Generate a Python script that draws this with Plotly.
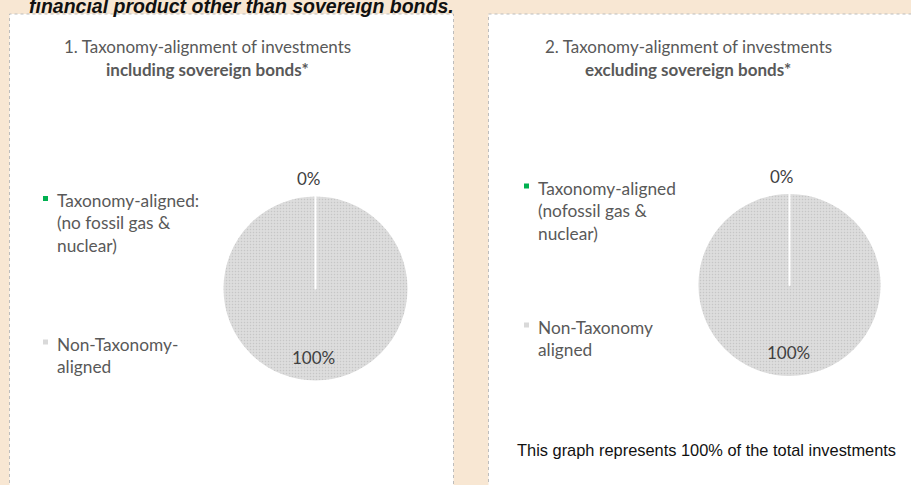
import plotly.graph_objects as go

W, H = 911, 485

# ---- data ----
categories_1 = ["Taxonomy-aligned:<br>(no fossil gas &<br>nuclear)", "Non-Taxonomy-<br>aligned"]
categories_2 = ["Taxonomy-aligned<br>(nofossil gas &<br>nuclear)", "Non-Taxonomy<br>aligned"]
values_1 = [0, 100]
values_2 = [0, 100]
slice_colors = ["#00B050", "#D9D9D9"]
header = "financial product other than sovereign bonds."
title_1 = ["1. Taxonomy-alignment of investments", "<b>including sovereign bonds*</b>"]
title_2 = ["2. Taxonomy-alignment of investments", "<b>excluding sovereign bonds*</b>"]
footnote = "This graph represents 100% of the total investments"


def px(x):
    return x / W


def py(y):
    return 1 - y / H


fig = go.Figure()


def add_pie(values, cx, cy, r):
    # draw the 100% slice first so the zero slice border stays visible
    order = [1, 0]
    fig.add_trace(go.Pie(
        values=[values[i] for i in order],
        labels=[f"s{i}" for i in order],
        marker=dict(colors=[slice_colors[i] for i in order],
                    line=dict(color="white", width=2),
                    pattern=dict(shape=".", fgcolor="#C6C6C6", bgcolor="#DDDDDD",
                                 size=3, solidity=0.2)),
        sort=False, direction="clockwise", rotation=0,
        textinfo="none", hoverinfo="skip", showlegend=False,
        domain=dict(x=[px(cx - r), px(cx + r)], y=[py(cy + r), py(cy - r)]),
    ))


add_pie(values_1, 315.5, 288.5, 93)
add_pie(values_2, 789.5, 285, 92)

shapes = []
# panels
shapes.append(dict(type="rect", xref="paper", yref="paper",
                   x0=px(9.5), x1=px(453.5), y0=py(490), y1=py(14),
                   fillcolor="white", line=dict(color="#BDBDBD", width=1, dash="dot"),
                   layer="below"))
shapes.append(dict(type="rect", xref="paper", yref="paper",
                   x0=px(488.5), x1=px(915), y0=py(490), y1=py(14),
                   fillcolor="white", line=dict(color="#BDBDBD", width=1, dash="dot"),
                   layer="below"))

ann = []


def text(x, y, t, size, color="#595959", family="Lato", xanchor="center", align="center"):
    ann.append(dict(x=px(x), y=py(y), xref="paper", yref="paper", text=t,
                    showarrow=False, xanchor=xanchor, yanchor="middle", align=align,
                    font=dict(size=size, color=color, family=family)))


# header
ann.append(dict(x=px(27), y=py(6.5), xref="paper", yref="paper", text=f"<b><i>{header}</i></b>",
                showarrow=False, xanchor="left", yanchor="middle",
                font=dict(size=19.5, color="#111111", family="Liberation Sans")))

# titles
text(207.5, 47, title_1[0], 17)
text(207.5, 70, title_1[1], 17)
text(688, 47, title_2[0], 17)
text(688, 70, title_2[1], 17)


# legends
def legend(x, ys, labels):
    for yy, lab, col in zip(ys, labels, slice_colors):
        shapes.append(dict(type="rect", xref="paper", yref="paper",
                           x0=px(x), x1=px(x + 5), y0=py(yy + 2.5), y1=py(yy - 2.5),
                           fillcolor=col, line=dict(width=0)))
        ann.append(dict(x=px(x + 12), y=py(yy - 10), xref="paper", yref="paper", text=lab,
                        showarrow=False, xanchor="left", yanchor="top", align="left",
                        font=dict(size=17.3, color="#595959", family="Lato")))


legend(43, [198.5, 342], categories_1)
legend(524, [186, 325], categories_2)


# slice labels
def slice_labels(values, x0, y0, x1, y1):
    text(x0, y0, f"{values[0]}%", 17, color="#404040")
    text(x1, y1, f"{values[1]}%", 17, color="#404040")


slice_labels(values_1, 308.5, 178, 313.5, 357)
slice_labels(values_2, 782, 176, 788, 352)

# footnote
text(706, 450, footnote, 16.4, color="#111111", family="Liberation Sans")

fig.update_layout(
    width=W, height=H, margin=dict(l=0, r=0, t=0, b=0),
    paper_bgcolor="#F8E7D3", plot_bgcolor="#F8E7D3",
    shapes=shapes, annotations=ann, showlegend=False,
)

fig.write_html("out.html", config={"displayModeBar": False},
               post_script="document.body.style.margin='0px';")
